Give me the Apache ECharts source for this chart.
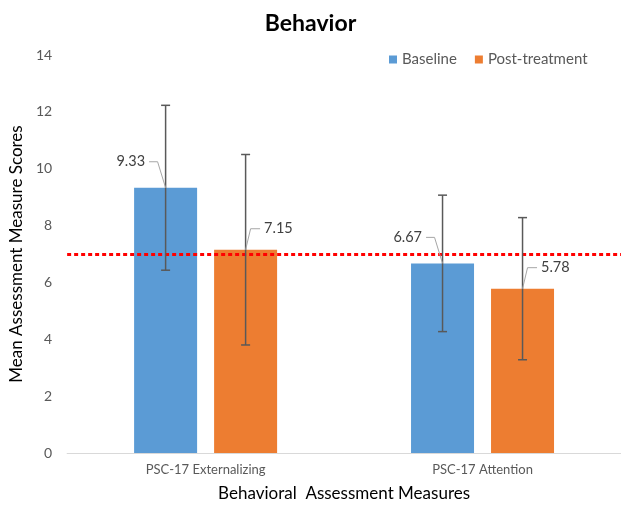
<!DOCTYPE html>
<html>
<head>
<meta charset="utf-8">
<script src="https://cdn.jsdelivr.net/npm/echarts@6/dist/echarts.min.js"></script>
<style>
    html, body { margin: 0; padding: 0; background: #fff; }
    #chart { width: 621px; height: 509px; }
</style>
</head>
<body>
<div id="chart"></div>
<script>
    // data
    var categories = ['PSC-17 Externalizing', 'PSC-17 Attention'];
    var baseline = [9.33, 6.67];
    var baselineErr = [2.9, 2.4];
    var postTreatment = [7.15, 5.78];
    var postTreatmentErr = [3.35, 2.5];
    var cutoff = 7;
    var yMin = 0, yMax = 14, yStep = 2;

    var FONT = 'Lato, "Open Sans", sans-serif';
    var BAR_W = 63;
    var BAR_GAP = 17;

    // error bar + leader line + value label, drawn on top of the bars
    function errorSeries(name, means, errs, side) {
        return {
            type: 'custom',
            name: name + '-err',
            z: 5,
            data: means.map(function (m, i) { return [i, m - errs[i], m + errs[i], m]; }),
            encode: { x: 0, y: [1, 2] },
            renderItem: function (params, api) {
                var shift = side * (BAR_W + BAR_GAP) / 2;
                var lo = api.coord([api.value(0), api.value(1)]);
                var hi = api.coord([api.value(0), api.value(2)]);
                var top = api.coord([api.value(0), api.value(3)]);
                var x = lo[0] + shift;
                var cap = 4.5;
                var errStyle = { stroke: '#595959', lineWidth: 1.5 };
                // leader geometry
                var ex = side < 0 ? x - 8 : x + 5;
                var ey = top[1] - (side < 0 ? 26 : 21);
                var hx = side < 0 ? ex - 8.5 : ex + 9.5;
                return {
                    type: 'group',
                    children: [
                        { type: 'line', shape: { x1: x, y1: lo[1], x2: x, y2: hi[1] }, style: errStyle },
                        { type: 'line', shape: { x1: x - cap, y1: hi[1], x2: x + cap, y2: hi[1] }, style: errStyle },
                        { type: 'line', shape: { x1: x - cap, y1: lo[1], x2: x + cap, y2: lo[1] }, style: errStyle },
                        {
                            type: 'polyline',
                            shape: { points: [[x, top[1]], [ex, ey], [hx, ey]] },
                            style: { stroke: '#a6a6a6', lineWidth: 1, fill: null }
                        },
                        {
                            type: 'text',
                            x: side < 0 ? hx - 4 : hx + 4,
                            y: ey,
                            style: {
                                text: api.value(3).toFixed(2),
                                fill: '#404040',
                                font: '14.5px ' + FONT,
                                align: side < 0 ? 'right' : 'left',
                                verticalAlign: 'middle'
                            }
                        }
                    ]
                };
            }
        };
    }

    var myChart = echarts.init(document.getElementById('chart'));
    var option = {
        backgroundColor: '#fff',
        animation: false,
        title: {
            text: 'Behavior',
            left: 'center',
            top: 7,
            textStyle: { fontFamily: FONT, fontSize: 23, fontWeight: 'bold', color: '#000' }
        },
        legend: {
            data: ['Baseline', 'Post-treatment'],
            left: 384,
            top: 47,
            icon: 'rect',
            itemWidth: 8,
            itemHeight: 8,
            itemGap: 18,
            textStyle: { fontFamily: FONT, fontSize: 15, color: '#595959' }
        },
        grid: { left: 63, width: 563, top: 55, bottom: 56 },
        xAxis: {
            type: 'category',
            data: categories,
            name: 'Behavioral  Assessment Measures',
            nameLocation: 'middle',
            nameGap: 32,
            nameTextStyle: { fontFamily: FONT, fontSize: 17, color: '#000' },
            axisLine: { lineStyle: { color: '#d9d9d9', width: 1 } },
            axisTick: { show: false },
            axisLabel: { margin: 10, fontFamily: FONT, fontSize: 13, color: '#595959' }
        },
        yAxis: {
            type: 'value',
            min: yMin,
            max: yMax,
            interval: yStep,
            name: 'Mean Assessment Measure Scores',
            nameLocation: 'middle',
            nameGap: 38,
            nameTextStyle: { fontFamily: FONT, fontSize: 17, color: '#000' },
            axisLine: { show: false },
            axisTick: { show: false },
            splitLine: { show: false },
            axisLabel: { margin: 15, fontFamily: FONT, fontSize: 14, color: '#595959' }
        },
        series: [
            {
                name: 'Baseline',
                type: 'bar',
                data: baseline,
                barWidth: BAR_W,
                barGap: (BAR_GAP / BAR_W * 100) + '%',
                itemStyle: { color: '#5b9bd5' },
                markLine: {
                    silent: true,
                    symbol: 'none',
                    label: { show: false },
                    lineStyle: { color: '#ff0000', width: 3, type: [4, 3] },
                    data: [{ yAxis: cutoff }]
                }
            },
            {
                name: 'Post-treatment',
                type: 'bar',
                data: postTreatment,
                barWidth: BAR_W,
                itemStyle: { color: '#ed7d31' }
            },
            errorSeries('Baseline', baseline, baselineErr, -1),
            errorSeries('Post-treatment', postTreatment, postTreatmentErr, 1)
        ]
    };
    myChart.setOption(option);
</script>
</body>
</html>
